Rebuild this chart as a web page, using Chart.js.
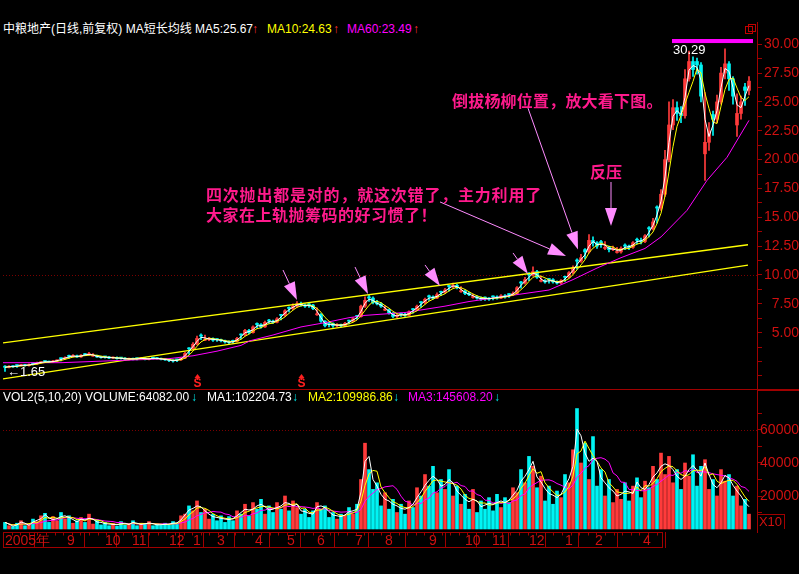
<!DOCTYPE html>
<html><head><meta charset="utf-8">
<script src="https://cdn.jsdelivr.net/npm/chart.js@4/dist/chart.umd.min.js"></script>
<style>
html,body{margin:0;padding:0;background:#000;width:799px;height:574px;overflow:hidden;}
#wrap{position:relative;width:799px;height:574px;background:#000;font-family:"Liberation Sans",Arial,"Noto Sans CJK SC",sans-serif;}
canvas{position:absolute;z-index:1;}
.t{position:absolute;white-space:nowrap;font-size:12px;line-height:14px;z-index:3;}
.ann{position:absolute;white-space:nowrap;font-family:"Noto Sans CJK SC",sans-serif;font-weight:bold;font-size:16px;line-height:18px;color:#ff1a8c;z-index:3;}
.ln{position:absolute;z-index:2;background:#a00000;}
</style></head>
<body><div id="wrap">
<canvas id="main" width="796" height="353" style="left:3px;top:36px;width:796px;height:353px"></canvas>
<canvas id="vol" width="796" height="159" style="left:3px;top:389px;width:796px;height:159px"></canvas>

<div class="ln" style="left:0;top:389px;width:757px;height:1px"></div>
<div class="ln" style="left:757px;top:389px;width:42px;height:2px"></div>
<div class="ln" style="left:757px;top:22px;width:1px;height:14px"></div>
<div style="position:absolute;left:745px;top:26px;width:6px;height:6px;border:1px solid #c00000;z-index:2"></div>
<div style="position:absolute;left:748px;top:24px;width:6px;height:6px;border:1px solid #c00000;z-index:2"></div>
<div class="t" style="left:757px;top:514px;width:27px;height:14px;border-top:1px solid #a00000;border-right:1px solid #a00000;color:#d01010;text-align:center;font-size:13px">X10</div>

<div class="t" style="left:3px;top:22px;color:#fff">中粮地产(日线,前复权) MA短长均线</div>
<div class="t" style="left:195px;top:22px;color:#fff">MA5:25.67</div>
<div class="t" style="left:252px;top:22px;color:#ff3030">↑</div>
<div class="t" style="left:267px;top:22px;color:#ffff00">MA10:24.63</div>
<div class="t" style="left:333px;top:22px;color:#ff3030">↑</div>
<div class="t" style="left:347px;top:22px;color:#ff00ff">MA60:23.49</div>
<div class="t" style="left:413px;top:22px;color:#ff3030">↑</div>

<div class="t" style="left:3px;top:390px;color:#fff">VOL2(5,10,20) VOLUME:64082.00</div>
<div class="t" style="left:191px;top:390px;color:#00e8e8">↓</div>
<div class="t" style="left:207px;top:390px;color:#fff">MA1:102204.73</div>
<div class="t" style="left:292px;top:390px;color:#00e8e8">↓</div>
<div class="t" style="left:308px;top:390px;color:#ffff00">MA2:109986.86</div>
<div class="t" style="left:393px;top:390px;color:#00e8e8">↓</div>
<div class="t" style="left:408px;top:390px;color:#ff00ff">MA3:145608.20</div>
<div class="t" style="left:494px;top:390px;color:#00e8e8">↓</div>

<div class="ann" style="left:452px;top:91px;letter-spacing:0.2px">倒拔杨柳位置，放大看下图。</div>
<div class="ann" style="left:590px;top:162px">反压</div>
<div class="ann" style="left:206px;top:185px;letter-spacing:0.8px">四次抛出都是对的，就这次错了，主力利用了</div>
<div class="ann" style="left:206px;top:205px;letter-spacing:0.5px">大家在上轨抛筹码的好习惯了！</div>
</div>
<script>
// ---------- data (one candle ≈ 2–3 trading days) ----------
const opens = [
2.10,2.00,2.10,2.18,2.15,2.20,2.15,2.33,2.30,2.40,
2.53,2.50,2.45,2.55,2.78,2.75,3.00,2.95,3.00,2.90,
3.15,3.10,2.97,3.00,2.90,2.93,2.90,2.80,2.85,2.83,
2.80,2.70,2.75,2.78,2.75,2.80,2.70,2.83,2.80,2.75,
2.70,2.65,2.60,2.68,2.65,2.80,3.65,3.60,4.00,4.80,
4.35,4.40,4.50,4.45,4.40,4.30,4.20,4.30,4.25,4.85,
4.80,5.20,5.00,5.80,5.70,5.50,6.10,6.00,5.90,6.55,
6.50,7.20,7.10,7.30,7.50,7.40,7.50,7.40,6.55,6.60,
6.00,5.85,5.80,5.60,5.70,5.60,6.05,6.00,6.45,6.40,
7.30,8.10,8.00,7.60,7.50,6.95,7.00,6.70,6.40,6.65,
6.60,6.50,7.05,7.00,7.65,7.60,8.20,8.10,8.00,8.55,
8.50,9.05,9.00,9.10,8.55,8.60,8.40,8.05,8.10,8.00,
8.05,8.00,8.15,8.10,8.00,8.20,8.35,8.30,8.40,9.40,
9.30,10.10,10.00,10.30,9.45,9.50,9.65,9.60,9.40,9.30,
9.85,9.80,10.20,11.30,11.20,12.20,12.00,13.00,12.80,12.90,
12.30,12.40,12.20,11.95,12.00,12.60,12.50,12.40,13.10,13.00,
12.90,14.10,14.00,15.90,15.80,17.00,20.00,23.00,24.50,24.00,
23.80,27.00,28.50,28.50,28.20,20.50,21.50,23.90,23.50,25.00,
27.50,28.30,27.00,23.00,24.00,26.30,26.00];
const highs = [
2.15,2.15,2.15,2.20,2.25,2.25,2.30,2.35,2.45,2.50,
2.55,2.55,2.60,2.65,2.80,2.90,3.05,3.10,3.05,3.10,
3.20,3.30,3.20,3.05,2.95,2.95,2.95,2.90,2.90,2.85,
2.85,2.80,2.80,2.80,2.85,2.85,2.80,2.85,2.85,2.80,
2.75,2.70,2.65,2.70,2.85,3.30,3.70,4.15,4.70,4.90,
4.80,4.60,4.55,4.50,4.45,4.35,4.30,4.35,4.60,4.90,
5.30,5.30,5.60,5.85,5.80,6.00,6.15,6.10,6.30,6.60,
7.00,7.25,7.50,7.70,7.65,7.50,7.55,7.45,7.15,6.65,
6.05,5.90,5.85,5.80,5.75,5.90,6.10,6.30,6.50,7.40,
8.10,8.25,8.10,7.80,7.60,7.35,7.05,6.75,6.60,6.70,
6.70,6.90,7.10,7.40,7.70,8.00,8.25,8.20,8.45,8.60,
8.85,9.10,9.30,9.20,9.00,8.70,8.50,8.35,8.20,8.10,
8.10,8.05,8.20,8.20,8.30,8.30,8.40,8.55,9.00,9.45,
9.80,10.20,10.70,10.40,9.90,9.60,9.70,9.70,9.50,9.60,
9.90,10.30,10.80,11.40,11.80,12.30,13.50,13.30,12.90,13.00,
12.90,12.50,12.50,12.40,12.45,12.70,12.60,12.90,13.20,13.20,
13.50,14.20,14.90,16.00,17.40,20.80,25.00,25.20,25.00,24.60,
27.80,29.40,28.90,28.80,28.40,25.80,23.20,24.20,25.60,28.00,
29.60,28.50,27.20,25.70,25.50,26.60,27.20];
const lows = [
1.65,1.95,2.00,2.00,2.10,2.10,2.10,2.20,2.25,2.35,
2.40,2.40,2.40,2.50,2.55,2.70,2.80,2.90,2.85,2.85,
3.00,3.05,2.95,2.85,2.80,2.80,2.75,2.75,2.70,2.70,
2.65,2.65,2.65,2.65,2.70,2.65,2.65,2.70,2.70,2.65,
2.60,2.50,2.45,2.50,2.60,2.75,3.15,3.55,3.95,4.40,
4.30,4.30,4.25,4.25,4.20,4.10,4.05,4.10,4.20,4.45,
4.75,4.90,4.95,5.40,5.40,5.45,5.80,5.80,5.85,6.10,
6.40,6.80,7.00,7.20,7.30,7.20,7.20,7.00,6.50,5.90,
5.50,5.50,5.45,5.50,5.50,5.55,5.75,5.95,6.15,6.35,
7.20,7.70,7.50,7.40,7.20,6.90,6.60,6.30,6.30,6.40,
6.40,6.45,6.70,6.95,7.20,7.50,7.80,7.90,7.95,8.20,
8.40,8.60,8.90,8.80,8.50,8.30,8.20,8.00,7.90,7.80,
7.80,7.80,7.85,7.90,7.95,8.00,8.05,8.20,8.35,8.85,
9.20,9.50,9.90,9.70,9.40,9.30,9.30,9.30,9.20,9.20,
9.45,9.75,10.10,10.50,11.10,11.40,11.90,12.50,12.30,12.40,
12.20,12.00,12.10,11.90,11.90,12.20,12.20,12.30,12.70,12.70,
12.80,13.30,13.90,14.50,15.60,16.80,19.80,22.60,23.40,23.20,
23.60,26.80,27.20,27.40,25.00,18.20,20.80,22.10,23.20,24.80,
27.00,26.00,24.80,22.00,23.50,24.70,25.60];
const closes = [
2.00,2.10,2.05,2.15,2.20,2.15,2.25,2.30,2.40,2.45,
2.50,2.45,2.55,2.60,2.75,2.85,2.95,3.00,2.90,3.05,
3.10,3.15,3.00,2.90,2.85,2.90,2.80,2.85,2.75,2.80,
2.70,2.75,2.70,2.75,2.80,2.70,2.75,2.80,2.75,2.70,
2.65,2.60,2.55,2.65,2.80,3.20,3.60,4.00,4.50,4.70,
4.40,4.50,4.35,4.40,4.30,4.20,4.15,4.25,4.50,4.80,
5.20,5.00,5.50,5.70,5.50,5.90,6.00,5.90,6.20,6.50,
6.90,7.10,7.30,7.50,7.40,7.30,7.40,7.10,6.60,6.00,
5.60,5.80,5.60,5.70,5.60,5.80,6.00,6.20,6.40,7.30,
7.80,8.00,7.60,7.50,7.30,7.00,6.70,6.40,6.50,6.60,
6.50,6.80,7.00,7.30,7.60,7.90,8.10,8.00,8.30,8.50,
8.70,9.00,9.10,8.90,8.60,8.40,8.30,8.10,8.00,7.90,
8.00,7.90,8.10,8.00,8.20,8.10,8.30,8.40,8.90,9.30,
9.60,10.00,10.30,9.80,9.50,9.40,9.60,9.40,9.30,9.50,
9.80,10.20,10.60,11.20,11.50,12.00,13.00,12.80,12.50,12.80,
12.40,12.20,12.30,12.00,12.30,12.50,12.40,12.80,13.00,12.90,
13.40,14.00,14.60,15.80,17.00,20.00,23.00,24.50,24.00,23.80,
27.00,28.50,27.80,28.20,25.50,21.50,22.50,23.50,25.00,27.50,
28.30,27.00,25.50,24.00,25.00,26.00,26.80];
const volumes = [
4000,2000,1500,3500,5000,2000,2500,6000,4500,8000,
9500,4000,7500,5000,10000,6000,8000,3500,5000,7000,
4000,9000,3000,5500,2500,4000,2000,3500,1800,4500,
2500,3000,5000,2000,3500,2800,4500,2000,3000,2200,
3500,2500,4500,3000,8000,9000,14000,11000,17000,10000,
12000,6000,9000,5000,8000,4000,7500,5000,11000,9000,
15000,8000,16000,12000,18000,9000,14000,10000,16000,12000,
20000,11000,17000,13000,9000,12000,7000,11000,16000,12000,
14000,7000,10000,6000,9000,8000,13000,9000,15000,30000,
52000,36000,24000,28000,14000,22000,12000,18000,10000,15000,
9000,17000,13000,25000,20000,33000,26000,38000,22000,30000,
24000,36000,20000,26000,15000,21000,12000,24000,10000,17000,
12000,19000,11000,21000,13000,19000,16000,25000,22000,36000,
28000,44000,38000,25000,32000,17000,26000,15000,23000,19000,
33000,28000,48000,73000,40000,52000,30000,56000,26000,36000,
20000,30000,16000,24000,18000,28000,17000,26000,31000,19000,
29000,25000,38000,30000,46000,33000,44000,28000,36000,24000,
40000,32000,45000,26000,38000,42000,24000,30000,20000,36000,
29000,33000,20000,26000,14000,18000,9000];

// MA60 (magenta): candle index / price
const ma60Idx = [-0.5,14,29,41,47,53,59,61.25,67,74,80,86,90,100,110,116,124,130,136,142,148,154,160,164,170.5,175.5,180.5,186];
const ma60Val = [2.4,2.4,2.6,2.75,3.0,3.4,3.9,4.3,4.8,5.5,5.87,6.3,6.5,6.75,7.3,7.7,8.1,8.4,8.7,9.6,10.6,11.5,12.3,13.3,15.6,18.2,20.2,23.4];
// hand drawn yellow channel
const channelIdx = [-0.5,185.75];
const channelUpper = [4.12,12.62];
const channelLower = [1.0,10.85];

// axis ticks
const priceTicks = [1.25,2.5,3.75,5,6.25,7.5,8.75,10,11.25,12.5,13.75,15,16.25,17.5,18.75,20,21.25,22.5,23.75,25,26.25,27.5,28.75,30];
const priceLabelled = [5,7.5,10,12.5,15,17.5,20,22.5,25,27.5,30];
const volTicks = [10000,20000,30000,40000,50000,60000,70000];
const volLabelled = [20000,40000,60000];
const monthTicks = [-0.5,15,24.5,31.25,40.5,46.5,52.5,62,70,77.5,87,94.5,105.5,114.5,121.25,130.5,139.5,147,159];
const monthLabels = ['2005年','9','10','11','12','1','3','4','5','6','7','8','9','10','11','12','1','2','4'];
const stripEnd = 164.25;
const priceGrid = [10];
const volGrid = [60000];

// markers / annotations (data coordinates: candle index, price)
const sellSignals = [48,74];
const maxMarkIdx = [166.75,187];
const maxMarkPrice = [30.1,30.45];
const maxLabel = '30.29';
const minLabel = '←1.65';
const minLabelAt = [-0.5,1.65];
const arrowFrom = [[69.5,10.43],[87.5,10.69],[105,10.87],[127,11.91],[130.75,24.46],[108.75,16.33],[151.5,18.06]];
const arrowTo   = [[73,7.83],[90.75,8.35],[108.75,9.05],[130.75,10.09],[143.25,12.2],[140.25,11.65],[151.5,14.25]];

const MA_SHORT = 2, MA_MID = 4;       // candle-count windows of the white / yellow price averages
const VOL_MA = [2,4,9];               // candle-count windows of the volume averages

// ---------- drawing ----------
const UP = '#ff3b3b', DOWN = '#00f4f4', AXIS = '#a00000', LABEL = '#d01010';
const FONT = '"Liberation Sans", Arial, sans-serif';
const AXFONT = '"Liberation Sans Narrow", "Liberation Sans", Arial, sans-serif';
const idx = closes.map((_, i) => i);
const isUp = i => closes[i] >= opens[i];
const candleColor = c => isUp(c.dataIndex) ? UP : DOWN;
function sma(arr, n) {
  return arr.map((_, i) => {
    const s = Math.max(0, i - n + 1); let t = 0;
    for (let k = s; k <= i; k++) t += arr[k];
    return {x: i, y: t / (i - s + 1)};
  });
}
const lineDs = (data, color, w) => ({type:'line', data, borderColor:color, borderWidth:w||1, pointRadius:0, tension:0, fill:false});

function drawArrow(ctx, x1, y1, x2, y2) {
  const ang = Math.atan2(y2 - y1, x2 - x1), L = 18, W = 6;
  const bx = x2 - L * Math.cos(ang), by = y2 - L * Math.sin(ang);
  ctx.beginPath(); ctx.moveTo(x1, y1); ctx.lineTo(bx, by); ctx.stroke();
  ctx.beginPath(); ctx.moveTo(x2, y2);
  ctx.lineTo(bx + W * Math.sin(ang), by - W * Math.cos(ang));
  ctx.lineTo(bx - W * Math.sin(ang), by + W * Math.cos(ang));
  ctx.closePath(); ctx.fill();
}

const mainDeco = {
  id: 'mainDeco',
  beforeDatasetsDraw(chart) {
    const {ctx, chartArea: a, scales: {y}} = chart;
    ctx.save(); ctx.strokeStyle = '#7a0000'; ctx.setLineDash([1, 2]); ctx.lineWidth = 1;
    priceGrid.forEach(p => { const py = Math.round(y.getPixelForValue(p)) + 0.5;
      ctx.beginPath(); ctx.moveTo(a.left, py); ctx.lineTo(a.right, py); ctx.stroke(); });
    ctx.restore();
  },
  afterDatasetsDraw(chart) {
    const {ctx, chartArea: a, scales: {x, y}} = chart;
    ctx.save();
    const mx1 = x.getPixelForValue(maxMarkIdx[0]), mx2 = x.getPixelForValue(maxMarkIdx[1]);
    const my1 = y.getPixelForValue(maxMarkPrice[1]), my2 = y.getPixelForValue(maxMarkPrice[0]);
    ctx.fillStyle = '#ff00ff'; ctx.fillRect(mx1, my1, mx2 - mx1, my2 - my1);
    ctx.font = '13px ' + FONT; ctx.fillStyle = '#ffffff'; ctx.textBaseline = 'top'; ctx.textAlign = 'left';
    ctx.fillText(maxLabel, mx1 + 1, my2 + 1);
    ctx.textBaseline = 'middle';
    ctx.fillText(minLabel, x.getPixelForValue(minLabelAt[0]) + 4, y.getPixelForValue(minLabelAt[1]) + 1);
    ctx.strokeStyle = '#ff8cff'; ctx.fillStyle = '#ff8cff'; ctx.lineWidth = 1;
    arrowFrom.forEach((f, k) => drawArrow(ctx, x.getPixelForValue(f[0]), y.getPixelForValue(f[1]),
      x.getPixelForValue(arrowTo[k][0]), y.getPixelForValue(arrowTo[k][1])));
    ctx.fillStyle = '#ff2020'; ctx.strokeStyle = '#ff2020';
    sellSignals.forEach(v => {
      const px = Math.round(x.getPixelForValue(v)) + 0.5, b = a.bottom;
      ctx.beginPath(); ctx.moveTo(px, b - 13); ctx.lineTo(px, b - 9); ctx.stroke();
      ctx.beginPath(); ctx.moveTo(px, b - 15); ctx.lineTo(px - 3, b - 11); ctx.lineTo(px + 3, b - 11); ctx.closePath(); ctx.fill();
      ctx.font = 'bold 12px ' + FONT; ctx.textAlign = 'center'; ctx.textBaseline = 'bottom';
      ctx.fillText('S', px, b + 1);
    });
    ctx.restore();
  }
};

const volDeco = {
  id: 'volDeco',
  beforeDatasetsDraw(chart) {
    const {ctx, chartArea: a, scales: {y}} = chart;
    ctx.save(); ctx.strokeStyle = '#7a0000'; ctx.setLineDash([1, 2]); ctx.lineWidth = 1;
    volGrid.forEach(p => { const py = Math.round(y.getPixelForValue(p)) + 0.5;
      ctx.beginPath(); ctx.moveTo(a.left, py); ctx.lineTo(a.right, py); ctx.stroke(); });
    ctx.restore();
  },
  afterDraw(chart) {
    const {ctx, chartArea: a, scales: {x}} = chart;
    const x1 = Math.round(x.getPixelForValue(monthTicks[0])) + 0.5, x2 = Math.round(x.getPixelForValue(stripEnd)) + 0.5;
    const top = a.bottom + 0.5, bot = a.bottom + 15.5;
    ctx.save(); ctx.strokeStyle = AXIS; ctx.lineWidth = 1;
    ctx.strokeRect(x1, top, x2 - x1, bot - top);
    ctx.beginPath();
    for (let v = monthTicks[0] + 2.15; v < stripEnd; v += 2.15) {
      const px = Math.round(x.getPixelForValue(v)) + 0.5;
      ctx.moveTo(px, top); ctx.lineTo(px, top + 3);
    }
    ctx.stroke(); ctx.restore();
  }
};

const baseOpts = {
  responsive: false, animation: false, devicePixelRatio: 1,
  layout: {padding: 0},
  plugins: {legend: {display: false}, tooltip: {enabled: false}},
};

new Chart(document.getElementById('main'), {
  type: 'bar',
  data: {datasets: [
    lineDs(sma(closes, MA_SHORT), '#ffffff'),
    lineDs(sma(closes, MA_MID), '#ffff00'),
    lineDs(ma60Idx.map((v, i) => ({x: v, y: ma60Val[i]})), '#ff00ff'),
    lineDs(channelIdx.map((v, i) => ({x: v, y: channelUpper[i]})), '#ffff00', 1.3),
    lineDs(channelIdx.map((v, i) => ({x: v, y: channelLower[i]})), '#ffff00', 1.3),
    {data: idx.map(i => ({x: i, y: [opens[i], closes[i]]})), backgroundColor: candleColor,
      barThickness: 3, grouped: false, minBarLength: 1},
    {data: idx.map(i => ({x: i, y: [lows[i], highs[i]]})), backgroundColor: candleColor, barThickness: 1, grouped: false}
  ]},
  options: Object.assign({}, baseOpts, {
    scales: {
      x: {type: 'linear', min: -0.5, max: 188, display: false, offset: false},
      y: {position: 'right', min: 0.121, max: 30.711,
        afterBuildTicks: s => { s.ticks = priceTicks.map(v => ({value: v})); },
        afterFit: s => { s.width = 42; s.paddingTop = 0; s.paddingBottom = 0; },
        ticks: {color: LABEL, font: {family: AXFONT, size: 14}, padding: 6, crossAlign: 'far', autoSkip: false,
          callback: v => priceLabelled.includes(v) ? v.toFixed(2) : ''},
        grid: {drawOnChartArea: false, tickLength: 5, color: AXIS},
        border: {color: AXIS}}
    }
  }),
  plugins: [mainDeco]
});

new Chart(document.getElementById('vol'), {
  type: 'bar',
  data: {datasets: [
    lineDs(sma(volumes, VOL_MA[0]), '#ffffff'),
    lineDs(sma(volumes, VOL_MA[1]), '#ffff00'),
    lineDs(sma(volumes, VOL_MA[2]), '#ff00ff'),
    {data: idx.map(i => ({x: i, y: volumes[i]})), backgroundColor: candleColor, barThickness: 3, grouped: false}
  ]},
  options: Object.assign({}, baseOpts, {
    scales: {
      x: {type: 'linear', min: -0.5, max: 188, offset: false, position: 'bottom',
        afterBuildTicks: s => { s.ticks = monthTicks.map(v => ({value: v})); },
        afterFit: s => { s.height = 16; s.paddingLeft = 0; s.paddingRight = 0; },
        ticks: {color: LABEL, font: {family: AXFONT, size: 14}, autoSkip: false, maxRotation: 0, minRotation: 0,
          align: 'start', labelOffset: 2, padding: -15, callback: (v, i) => monthLabels[i]},
        grid: {drawOnChartArea: false, tickLength: 16, color: AXIS},
        border: {display: false}},
      y: {position: 'right', min: -1818, max: 84848,
        afterBuildTicks: s => { s.ticks = volTicks.map(v => ({value: v})); },
        afterFit: s => { s.width = 42; s.paddingTop = 0; s.paddingBottom = 0; },
        ticks: {color: LABEL, font: {family: AXFONT, size: 14}, padding: 3, crossAlign: 'far', autoSkip: false,
          callback: v => volLabelled.includes(v) ? String(v) : ''},
        grid: {drawOnChartArea: false, tickLength: 5, color: AXIS},
        border: {color: AXIS}}
    }
  }),
  plugins: [volDeco]
});
</script>
</body></html>
